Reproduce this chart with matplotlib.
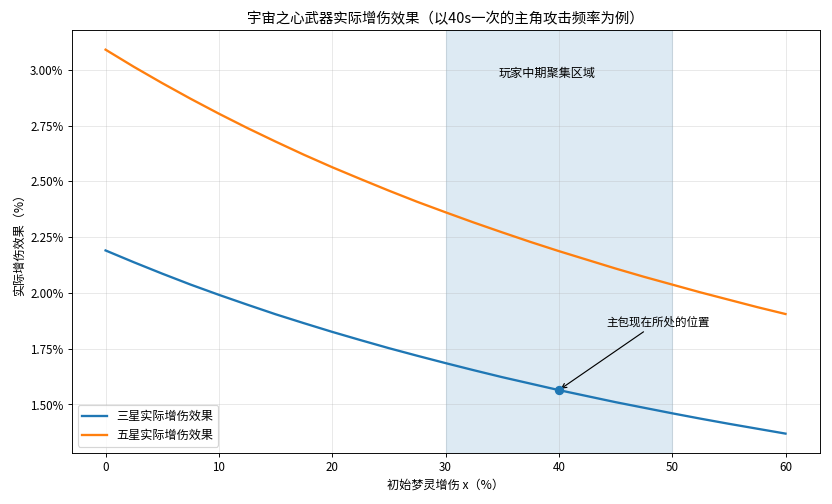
import numpy as np
import matplotlib
matplotlib.use("Agg")
import matplotlib.pyplot as plt
from matplotlib.ticker import FuncFormatter

plt.rcParams['font.family'] = ['Noto Sans CJK SC', 'DejaVu Sans']
plt.rcParams['axes.unicode_minus'] = False

# 初始梦灵增伤 x（%）
x = [0, 2.5, 5, 7.5, 10, 12.5, 15, 17.5, 20, 22.5, 25, 27.5, 30,
     32.5, 35, 37.5, 40, 42.5, 45, 47.5, 50, 52.5, 55, 57.5, 60]
# 三星 / 五星实际增伤效果（%）
three_star = [2.190, 2.137, 2.086, 2.037, 1.991, 1.947, 1.904, 1.864, 1.825,
              1.788, 1.752, 1.718, 1.685, 1.653, 1.622, 1.593, 1.564, 1.537,
              1.510, 1.485, 1.460, 1.436, 1.413, 1.391, 1.369]
five_star = [3.090, 3.013, 2.940, 2.870, 2.803, 2.739, 2.678, 2.619, 2.563,
             2.510, 2.458, 2.408, 2.361, 2.315, 2.271, 2.228, 2.187, 2.148,
             2.109, 2.072, 2.037, 2.002, 1.969, 1.936, 1.905]

zone = (30, 50)
current_x = 40
current_y = 1.564

fig, ax = plt.subplots(figsize=(10, 6.06), dpi=83.2)

ax.axvspan(zone[0], zone[1], color='tab:blue', alpha=0.15)
ax.plot(x, three_star, color='tab:blue', lw=2, label='三星实际增伤效果')
ax.plot(x, five_star, color='tab:orange', lw=2, label='五星实际增伤效果')

ax.scatter([current_x], [current_y], color='tab:blue', s=50, zorder=5)
ax.annotate('主包现在所处的位置', xy=(current_x, current_y), xytext=(44.2, 1.855),
            fontsize=10, arrowprops=dict(arrowstyle='->', color='black', lw=1))

ax.text(39, 2.985, '玩家中期聚集区域', ha='center', va='center', fontsize=10.5)

ax.yaxis.set_major_formatter(FuncFormatter(lambda v, p: f'{v:.2f}%'))
ax.grid(alpha=0.3)
ax.set_title('宇宙之心武器实际增伤效果（以40s一次的主角攻击频率为例）', fontsize=12.5)
ax.set_xlabel('初始梦灵增伤 x（%）', fontsize=10.5)
ax.set_ylabel('实际增伤效果（%）', fontsize=10.5)
ax.legend(loc='lower left', fontsize=10.5)

plt.tight_layout()
plt.savefig('out.png')
